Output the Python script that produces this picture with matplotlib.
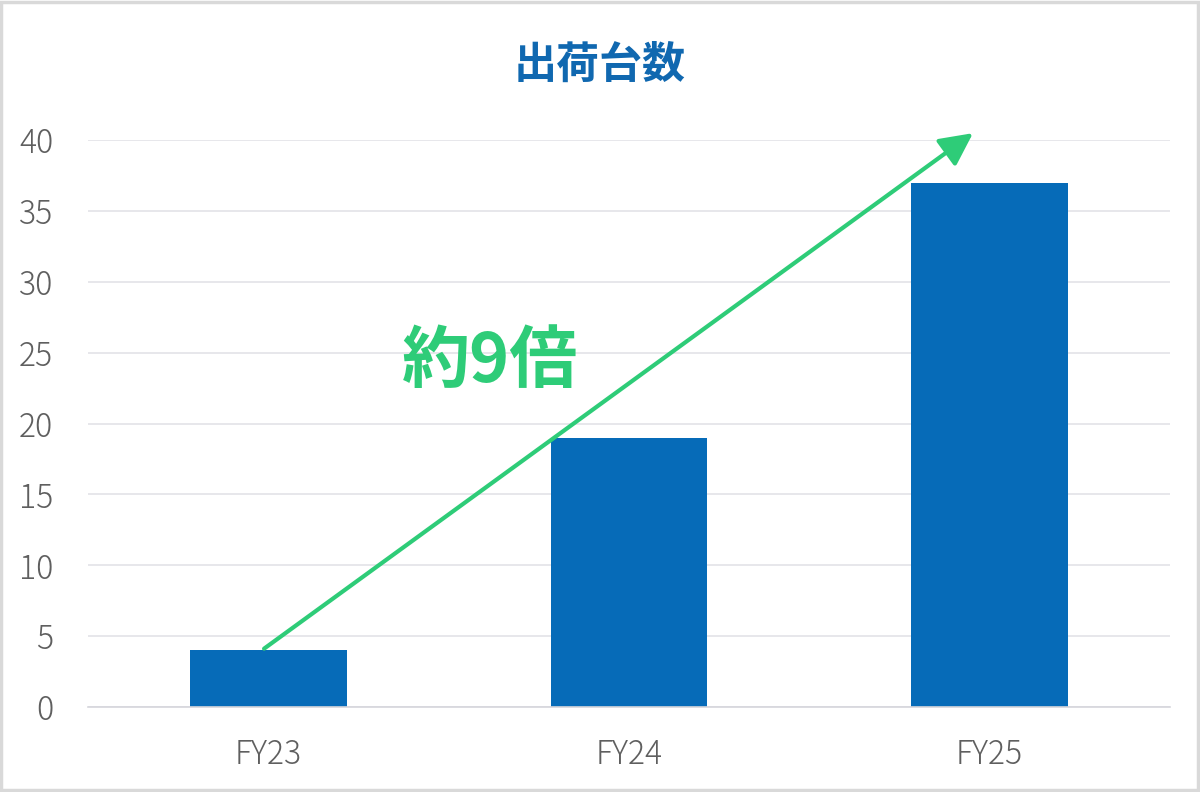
import matplotlib.pyplot as plt
from matplotlib.patches import FancyArrowPatch, Rectangle

plt.rcParams['font.family'] = ['Noto Sans CJK JP', 'DejaVu Sans']

# data
categories = ['FY23', 'FY24', 'FY25']
shipments = [4, 19, 37]
title_text = '出荷台数'
growth_label = '約9倍'
y_ticks = [0, 5, 10, 15, 20, 25, 30, 35, 40]

bar_color = '#066bb8'
green = '#2ecc78'
tick_gray = '#5f5f5f'

fig = plt.figure(figsize=(12, 7.92), dpi=100)
ax = fig.add_axes([0.0733, 0.1073, 0.9017, 0.7159])

x = range(len(categories))
ax.bar(x, shipments, width=0.435, color=bar_color, zorder=2)

ax.set_xlim(-0.5, 2.5)
ax.set_ylim(0, 40)
ax.set_yticks(y_ticks)
ax.set_xticks(list(x))
ax.set_xticklabels(categories)
ax.tick_params(axis='y', length=0, pad=25, labelsize=23, labelcolor=tick_gray)
ax.tick_params(axis='x', length=0, pad=22, labelsize=23, labelcolor=tick_gray)
for lab in ax.get_xticklabels() + ax.get_yticklabels():
    lab.set_fontweight('light')
ax.grid(axis='y', color='#e3e3e8', linewidth=1.2, zorder=0)
ax.set_axisbelow(True)
for side in ['top', 'right', 'left']:
    ax.spines[side].set_visible(False)
ax.spines['bottom'].set_color('#d6d6dc')
ax.spines['bottom'].set_linewidth(1.2)

# growth arrow from FY23 bar top to above FY25
arrow = FancyArrowPatch((-0.018, shipments[0]), (1.96, 40.6),
                        arrowstyle='-|>,head_length=20,head_width=10',
                        mutation_scale=1, color=green, linewidth=3,
                        clip_on=False, zorder=3)
ax.add_patch(arrow)

ax.text(0.614, 24.3, growth_label, color=green, fontsize=49,
        fontweight='bold', ha='center', va='center', zorder=4)

fig.text(0.5, 0.918, title_text, color='#1068b0', fontsize=31,
         fontweight='bold', ha='center', va='center')

# light frame around the whole picture
fig.patches.append(Rectangle((0.001, 0.002), 0.997, 0.995,
                             transform=fig.transFigure, fill=False,
                             edgecolor='#d9d9d9', linewidth=2.5))

fig.savefig('out.png', dpi=100, facecolor='white')
